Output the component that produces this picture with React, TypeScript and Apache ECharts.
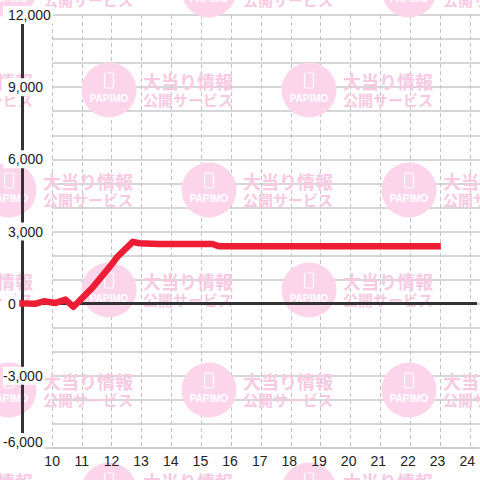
import React, { useEffect, useRef } from "react";
import * as echarts from "echarts";

// time of day (hours) and cumulative difference values
const hours = [9, 9.45, 9.72, 10.12, 10.45, 10.72, 11.35, 11.96, 12.2, 12.72, 12.95, 13.6, 15.4, 15.62, 23];
const values = [10, 0, 100, 30, 170, -130, 650, 1560, 1950, 2570, 2510, 2480, 2480, 2390, 2390];

const xMin = 9;
const xMax = 24.33;
const xGridMin = 10;
const xGridMax = 24;
const yMin = -6000;
const yMax = 12000;
const yLabelStep = 3000;
const yGridStep = 1000;

const FONT = '"Liberation Sans", Arial, sans-serif';
const CJK = '"Noto Sans CJK JP", sans-serif';

function buildWatermark() {
  const els: any[] = [];
  const rows = [-10, 90, 190, 290, 390, 490];
  rows.forEach((cy, i) => {
    const start = i % 2 === 0 ? 9 : -91;
    for (let cx = start; cx < 520; cx += 200) {
      els.push({
        type: "circle",
        z: 1,
        silent: true,
        shape: { cx, cy, r: 27.5 },
        style: { fill: "#fcd5ea" },
      });
      els.push({
        type: "rect",
        z: 1,
        silent: true,
        shape: { x: cx - 4.5, y: cy - 17, width: 9, height: 15, r: 1.5 },
        style: { fill: "none", stroke: "#ffffff", lineWidth: 1.2 },
      });
      els.push({
        type: "text",
        z: 1,
        silent: true,
        x: cx,
        y: cy + 8.5,
        style: {
          text: "PAPIMO",
          fill: "#ffffff",
          font: "bold 10px " + FONT,
          textAlign: "center",
          align: "center",
          textVerticalAlign: "middle",
          verticalAlign: "middle",
        },
      });
      els.push({
        type: "text",
        z: 1,
        silent: true,
        x: cx + 34,
        y: cy - 9,
        style: {
          text: "大当り情報",
          fill: "#f8cae1",
          font: "bold 18px " + CJK,
          textAlign: "left",
          align: "left",
          textVerticalAlign: "middle",
          verticalAlign: "middle",
        },
      });
      els.push({
        type: "text",
        z: 1,
        silent: true,
        x: cx + 34,
        y: cy + 9.5,
        style: {
          text: "公開サービス",
          fill: "#f8cae1",
          font: "bold 15px " + CJK,
          textAlign: "left",
          align: "left",
          textVerticalAlign: "middle",
          verticalAlign: "middle",
        },
      });
    }
  });
  return els;
}

export default function App() {
  const ref = useRef<HTMLDivElement>(null);
  useEffect(() => {
    if (!ref.current) return;
    const chart = echarts.init(ref.current, null, { renderer: "svg" });
    const labelBase = { fontSize: 14, color: "#222", fontFamily: FONT };
    const hidden = {
      axisLine: { show: false },
      axisTick: { show: false },
      axisLabel: { show: false },
      splitLine: { show: false },
    };
    chart.setOption({
      animation: false,
      backgroundColor: "#ffffff",
      graphic: { elements: buildWatermark() },
      grid: [
        { left: 21.5, right: 0, top: 15, bottom: 32 },
        { left: 52, right: 0, top: 15, bottom: 32 },
        { left: 52, right: 10, top: 15, bottom: 32 },
      ],
      xAxis: [
        {
          type: "value",
          gridIndex: 0,
          min: xMin,
          max: xMax,
          interval: 1,
          z: 3,
          axisLine: { show: true, onZero: false, lineStyle: { color: "#c8c8c8", width: 1.5 } },
          axisTick: { show: false },
          splitLine: { show: false },
          axisLabel: {
            margin: 6,
            ...labelBase,
            formatter: (v: number) => (v === xMin || !Number.isInteger(v) ? "" : String(v)),
          },
        },
        { type: "value", gridIndex: 1, min: xGridMin, max: xMax, z: 0, ...hidden },
        {
          type: "value",
          gridIndex: 2,
          min: xGridMin,
          max: xGridMax,
          interval: 1,
          z: 0,
          axisLine: { show: false },
          axisTick: { show: false },
          axisLabel: { show: false },
          splitLine: { show: true, lineStyle: { color: "#c4c4c4", width: 1, type: [4, 3] } },
        },
      ],
      yAxis: [
        {
          type: "value",
          gridIndex: 0,
          min: yMin,
          max: yMax,
          interval: yLabelStep,
          z: 4,
          axisLine: { show: true, lineStyle: { color: "#333333", width: 3 } },
          axisTick: { show: false },
          splitLine: { show: false },
          axisLabel: {
            align: "left",
            margin: 19.5,
            backgroundColor: "#ffffff",
            padding: [2, 2, 2, 0],
            ...labelBase,
            formatter: (v: number) => {
              const s = v.toLocaleString("en-US");
              if (v === yMin) return "{b|" + s + "}";
              return v < 0 ? "{n|" + s + "}" : "{p|" + s + "}";
            },
            rich: {
              p: { ...labelBase, padding: [0, 0, 0, 5] },
              n: { ...labelBase },
              b: { ...labelBase, padding: [0, 0, 12, 0] },
            },
          },
        },
        {
          type: "value",
          gridIndex: 1,
          min: yMin,
          max: yMax,
          interval: yGridStep,
          z: 0,
          axisLine: { show: false },
          axisTick: { show: false },
          axisLabel: { show: false },
          splitLine: { show: true, lineStyle: { color: "#c8c8c8", width: 1.5 } },
        },
        { type: "value", gridIndex: 2, min: yMin, max: yMax, z: 0, ...hidden },
      ],
      series: [
        { type: "line", xAxisIndex: 1, yAxisIndex: 1, data: [], silent: true },
        { type: "line", xAxisIndex: 2, yAxisIndex: 2, data: [], silent: true },
        {
          type: "line",
          xAxisIndex: 0,
          yAxisIndex: 0,
          z: 5,
          data: hours.map((h, i) => [h, values[i]]),
          showSymbol: false,
          symbol: "none",
          silent: true,
          lineStyle: { color: "#ec1d35", width: 6.5, cap: "square", join: "round" },
          markLine: {
            silent: true,
            symbol: "none",
            label: { show: false },
            lineStyle: { color: "#333333", width: 3, type: "solid" },
            data: [{ yAxis: 0 }],
          },
        },
      ],
    });
    return () => chart.dispose();
  }, []);
  return (
    <div
      ref={ref}
      style={{ position: "fixed", left: 0, top: 0, width: 480, height: 480 }}
    />
  );
}
